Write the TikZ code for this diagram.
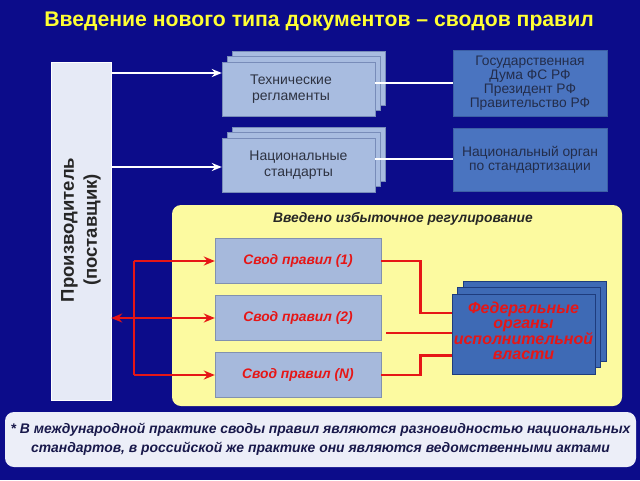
\documentclass[tikz,border=0pt]{standalone}
\usepackage{fontspec}
\setmainfont{Liberation Sans}
\usetikzlibrary{arrows.meta,shadows,calc}
\definecolor{bgblue}{RGB}{12,12,138}
\definecolor{prodfill}{RGB}{230,234,246}
\definecolor{lbox}{RGB}{168,188,224}
\definecolor{lboxedge}{RGB}{120,140,185}
\definecolor{mbox}{RGB}{74,116,192}
\definecolor{mboxedge}{RGB}{60,95,165}
\definecolor{mtext}{RGB}{35,45,75}
\definecolor{ltext}{RGB}{45,50,65}
\definecolor{yel}{RGB}{252,250,160}
\definecolor{svfill}{RGB}{166,185,220}
\definecolor{svedge}{RGB}{130,145,175}
\definecolor{rred}{RGB}{230,22,22}
\definecolor{fedfill}{RGB}{62,106,181}
\definecolor{fededge}{RGB}{30,60,125}
\definecolor{notefill}{RGB}{236,238,248}
\definecolor{notetext}{RGB}{25,25,75}
\definecolor{titleyel}{RGB}{255,255,51}
\tikzset{
  stackbox/.style={draw=lboxedge, fill=lbox, minimum width=153pt, align=center,
    text=ltext, font=\fontsize{14}{15.5}\selectfont, inner sep=0pt,
    double copy shadow={shadow xshift=5pt, shadow yshift=5.5pt, fill=lbox, draw=lboxedge}},
  authbox/.style={draw=mboxedge, fill=mbox, minimum width=154pt, align=center,
    text=mtext, font=\fontsize{13.8}{13.8}\selectfont, inner sep=0pt},
  svodbox/.style={draw=svedge, fill=svfill, minimum width=166pt, minimum height=45pt,
    text=rred, font=\fontsize{13.8}{15}\selectfont\bfseries\itshape, inner sep=0pt},
  warrow/.style={draw=white, line width=1.8pt, -{Stealth[length=10pt,width=8pt]}},
  wline/.style={draw=white, line width=2pt},
  rline/.style={draw=rred, line width=2.6pt},
  rarrow/.style={draw=rred, line width=2.6pt, -{Stealth[length=11pt,width=9pt]}},
}
\begin{document}
\begin{tikzpicture}[x=1pt,y=-1pt]
\useasboundingbox (0,0) rectangle (640,480);
\fill[bgblue] (0,0) rectangle (640,480);
% title
\node[text=titleyel, font=\fontsize{21.2}{24}\selectfont\bfseries] (title) at (319,21)
  {Введение нового типа документов – сводов правил};
% producer
\node[draw=white, fill=prodfill, minimum width=60pt, minimum height=338pt, inner sep=0pt] (prod) at (81,231) {};
\node[rotate=90, align=center, text=black!85, font=\fontsize{18.5}{23}\selectfont\bfseries] (prodtext) at (81,230)
  {Производитель\\(поставщик)};
% top boxes
\node[stackbox, minimum height=54pt] (tech) at (298.5,89) {};
\node[align=center, text=ltext, font=\fontsize{14}{15.5}\selectfont] (techtext) at (291,89) {Технические\\регламенты};
\node[stackbox, minimum height=54pt] (nat) at (298.5,165) {Национальные\\стандарты};
\node[authbox, minimum height=66pt] (gov) at (530,83) {Государственная\\Дума ФС РФ\\Президент РФ\\Правительство РФ};
\node[authbox, minimum height=63pt] (natorg) at (530,159.5) {Национальный орган\\по стандартизации};
% white connectors
\draw[warrow] (prod.east |- 0,73) -- (tech.west |- 0,73);
\draw[warrow] (prod.east |- 0,167) -- (nat.west |- 0,167);
\draw[wline] (tech.east |- 0,83) -- (gov.west |- 0,83);
\draw[wline] (nat.east |- 0,159) -- (natorg.west |- 0,159);
% yellow area
\node[draw=none, fill=yel, rounded corners=9pt, minimum width=450pt, minimum height=201pt, inner sep=0pt] (area) at (397,305.5) {};
\node[text=black!85, font=\fontsize{13.8}{15}\selectfont\bfseries\itshape] (areatitle) at (403,219)
  {Введено избыточное регулирование};
\node[svodbox] (s1) at (298,261) {Свод правил (1)};
\node[svodbox] (s2) at (298,318) {Свод правил (2)};
\node[svodbox] (sN) at (298,375) {Свод правил (N)};
\node[draw=fededge, fill=fedfill, minimum width=143pt, minimum height=80pt, inner sep=0pt,
  double copy shadow={shadow xshift=5.5pt, shadow yshift=6.5pt, fill=fedfill, draw=fededge}] (fed) at (523.5,334) {};
\node[align=center, text=rred, font=\fontsize{16}{15.5}\selectfont\bfseries\itshape] (fedtext) at (523.5,331)
  {Федеральные\\органы\\исполнительной\\власти};
% red connectors
\coordinate (bus) at (134,318);
\draw[rline] (bus |- s1) -- (bus |- sN);
\draw[rarrow] (bus |- s1) -- (s1.west);
\draw[rarrow] (bus |- sN) -- (sN.west);
\draw[rline, {Stealth[length=11pt,width=9pt]}-{Stealth[length=11pt,width=9pt]}] (prod.east |- s2) -- (s2.west);
\draw[rline] (s1.east) -- ++(39,0) |- (fed.west |- 0,313);
\coordinate (m2) at (386,333);
\draw[rline] (m2) -- (fed.west |- m2);
\draw[rline] (sN.east) -- ++(39,0) |- (fed.west |- 0,355.5);
% footnote
\node[fill=notefill, rounded corners=9pt, minimum width=631pt, minimum height=55pt, inner sep=0pt,
  align=center, text=notetext, font=\fontsize{13.9}{19}\selectfont\bfseries\itshape] (note) at (320.5,439.5)
  {* В международной практике своды правил являются разновидностью национальных\\стандартов, в российской же практике они являются ведомственными актами};
\end{tikzpicture}
\end{document}
